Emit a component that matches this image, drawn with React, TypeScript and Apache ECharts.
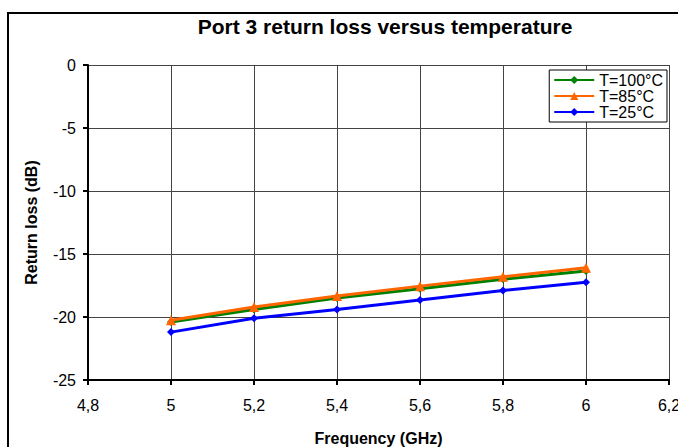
import React, { useEffect, useRef } from "react";
import * as echarts from "echarts";

const freqs = [5, 5.2, 5.4, 5.6, 5.8, 6];
const t100 = [-20.4, -19.4, -18.5, -17.75, -17.0, -16.35];
const t85 = [-20.25, -19.2, -18.33, -17.55, -16.8, -16.1];
const t25 = [-21.2, -20.1, -19.4, -18.65, -17.9, -17.25];
const seriesNames = ["T=100°C", "T=85°C", "T=25°C"];
const seriesColors = ["#008000", "#ff6600", "#0000ff"];
const seriesSymbols = ["diamond", "triangle", "diamond"];

const FONT = "'Liberation Sans', Arial, sans-serif";

export default function App() {
  const ref = useRef<HTMLDivElement>(null);
  useEffect(() => {
    const chart = echarts.init(ref.current!, null, { renderer: "svg", width: 678, height: 447 });
    const datas = [t100, t85, t25];
    chart.setOption({
      animation: false,
      backgroundColor: "#ffffff",
      title: {
        text: "Port 3 return loss versus temperature",
        left: 380,
        textAlign: "center",
        top: 11,
        textStyle: { fontFamily: FONT, fontSize: 21, fontWeight: "bold", color: "#000" },
      },
      legend: {
        orient: "vertical",
        right: 11,
        top: 70,
        itemGap: 0,
        itemWidth: 40,
        itemHeight: 10,
        padding: [2, 4, 2, 4],
        borderColor: "#000",
        borderWidth: 1,
        backgroundColor: "#fff",
        textStyle: { fontFamily: FONT, fontSize: 16, lineHeight: 16, color: "#000" },
        data: seriesNames,
      },
      graphic: [
        {
          type: "rect",
          shape: { x: 8, y: 13, width: 720, height: 500 },
          style: { fill: "none", stroke: "#000", lineWidth: 2 },
          silent: true,
        },
      ],
      grid: { left: 88, right: 9, top: 65, bottom: 67, containLabel: false, outerBoundsMode: "none" },
      xAxis: {
        type: "value",
        min: 4.8,
        max: 6.2,
        interval: 0.2,
        name: "Frequency (GHz)",
        nameLocation: "middle",
        nameGap: 50,
        nameTextStyle: { fontFamily: FONT, fontSize: 16, fontWeight: "bold", color: "#000" },
        axisLine: { show: true, onZero: false, lineStyle: { color: "#000", width: 2 } },
        axisTick: { show: true, length: 5, lineStyle: { color: "#000", width: 2 } },
        axisLabel: {
          fontFamily: FONT,
          fontSize: 16,
          color: "#000",
          margin: 17,
          formatter: (v: number) => String(Number(v.toFixed(1))).replace(".", ","),
        },
        splitLine: { show: true, lineStyle: { color: "#444", width: 1 } },
      },
      yAxis: {
        type: "value",
        min: -25,
        max: 0,
        interval: 5,
        name: "Return loss (dB)",
        nameLocation: "middle",
        nameGap: 49,
        nameTextStyle: { fontFamily: FONT, fontSize: 16, fontWeight: "bold", color: "#000" },
        axisLine: { show: true, onZero: false, lineStyle: { color: "#000", width: 2 } },
        axisTick: { show: true, length: 5, lineStyle: { color: "#000", width: 2 } },
        axisLabel: { fontFamily: FONT, fontSize: 16, color: "#000", margin: 12 },
        splitLine: { show: true, lineStyle: { color: "#444", width: 1 } },
      },
      series: seriesNames.map((name, i) => ({
        name,
        type: "line",
        data: freqs.map((f, j) => [f, datas[i][j]]),
        symbol: seriesSymbols[i],
        symbolSize: seriesSymbols[i] === "triangle" ? 10 : 8,
        showSymbol: true,
        color: seriesColors[i],
        lineStyle: { color: seriesColors[i], width: 3 },
        itemStyle: { color: seriesColors[i] },
        z: i === 1 ? 4 : 3,
      })),
    });
    return () => chart.dispose();
  }, []);
  return (
    <div
      ref={ref}
      style={{ position: "fixed", left: 0, top: 0, width: 678, height: 447 }}
    />
  );
}
